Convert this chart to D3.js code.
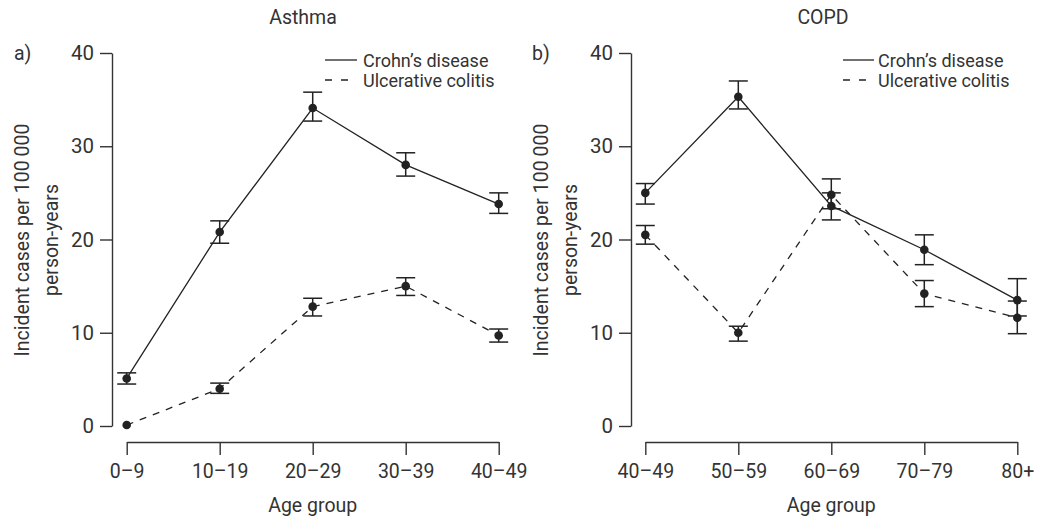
<!DOCTYPE html>
<meta charset="utf-8" />
<style>
  body { margin: 0; background: #fff; }
  svg text { font-family: Roboto, "DejaVu Sans", sans-serif; fill: #333; }
</style>
<script src="https://d3js.org/d3.v7.min.js"></script>
<svg id="chart" width="1050" height="519"></svg>
<script>
  // age groups
  const asthmaAges = ['0–9', '10–19', '20–29', '30–39', '40–49'];
  const copdAges = ['40–49', '50–59', '60–69', '70–79', '80+'];

  // asthma: Crohn's disease (CD) and ulcerative colitis (UC)
  const asthmaCD = [5.1, 20.8, 34.1, 28.0, 23.8];
  const asthmaCDLo = [4.5, 19.6, 32.7, 26.8, 22.8];
  const asthmaCDHi = [5.7, 22.0, 35.8, 29.3, 25.0];
  const asthmaUC = [0.1, 4.0, 12.8, 15.0, 9.7];
  const asthmaUCLo = [null, 3.5, 11.8, 14.0, 9.0];
  const asthmaUCHi = [null, 4.6, 13.7, 15.9, 10.4];

  // COPD
  const copdCD = [25.0, 35.3, 23.6, 18.9, 13.5];
  const copdCDLo = [23.8, 34.0, 22.1, 17.3, 11.8];
  const copdCDHi = [26.0, 37.0, 25.0, 20.5, 15.8];
  const copdUC = [20.5, 10.0, 24.8, 14.2, 11.6];
  const copdUCLo = [19.5, 9.1, 23.3, 12.8, 9.9];
  const copdUCHi = [21.5, 10.7, 26.5, 15.6, 13.4];

  const yTicks = [0, 10, 20, 30, 40];

  const svg = d3.select('#chart');
  const ink = '#222';
  const fs = '19.5px';

  const y = d3.scaleLinear().domain([0, 40]).range([426, 53]);

  function drawPanel(opt) {
    const g = svg.append('g');
    const x = d3.scalePoint().domain(opt.ages).range(opt.xRange).padding(0);

    // y axis
    const ya = g.append('g')
      .attr('transform', 'translate(' + opt.axisX + ',0)')
      .call(d3.axisLeft(y).tickValues(yTicks).tickSize(12).tickSizeOuter(0).tickPadding(6));
    ya.selectAll('path, line').attr('stroke', '#333').attr('stroke-width', 1.4);
    ya.selectAll('text').style('font-size', '20.5px').attr('fill', '#333');

    // x axis
    const xa = g.append('g')
      .attr('transform', 'translate(0,442)')
      .call(d3.axisBottom(x).tickSize(13).tickSizeOuter(0).tickPadding(9.5));
    xa.selectAll('path, line').attr('stroke', '#333').attr('stroke-width', 1.4);
    xa.selectAll('text').style('font-size', fs).attr('fill', '#333');

    // titles
    g.append('text').attr('x', opt.titleX).attr('y', 24)
      .attr('text-anchor', 'middle').style('font-size', fs).text(opt.title);
    g.append('text').attr('x', opt.labelX).attr('y', 60)
      .style('font-size', fs).text(opt.label);
    g.append('text').attr('x', (opt.xRange[0] + opt.xRange[1]) / 2).attr('y', 512)
      .attr('text-anchor', 'middle').style('font-size', fs).text('Age group');

    const yt = g.append('text').attr('transform', 'translate(' + (opt.axisX - 83) + ',240) rotate(-90)')
      .attr('text-anchor', 'middle').style('font-size', fs);
    yt.append('tspan').attr('x', 0).attr('y', 0).text('Incident cases per 100\u2009000');
    yt.append('tspan').attr('x', 0).attr('y', 29).text('person-years');

    const series = [
      { v: opt.cd, lo: opt.cdLo, hi: opt.cdHi, dash: null },
      { v: opt.uc, lo: opt.ucLo, hi: opt.ucHi, dash: '7,7' }
    ];

    const line = d3.line().x((d, i) => x(opt.ages[i])).y(d => y(d));

    series.forEach(s => {
      g.append('path').datum(s.v)
        .attr('d', line)
        .attr('fill', 'none')
        .attr('stroke', ink)
        .attr('stroke-width', 1.3)
        .attr('stroke-dasharray', s.dash);

      const eb = g.append('g');
      opt.ages.forEach((a, i) => {
        if (s.lo[i] == null) return;
        const cx = x(a);
        eb.append('line').attr('x1', cx).attr('x2', cx)
          .attr('y1', y(s.lo[i])).attr('y2', y(s.hi[i]));
        eb.append('line').attr('x1', cx - 9.5).attr('x2', cx + 9.5)
          .attr('y1', y(s.lo[i])).attr('y2', y(s.lo[i]));
        eb.append('line').attr('x1', cx - 9.5).attr('x2', cx + 9.5)
          .attr('y1', y(s.hi[i])).attr('y2', y(s.hi[i]));
      });
      eb.selectAll('line').attr('stroke', ink).attr('stroke-width', 1.5);

      g.append('g').selectAll('circle').data(s.v).join('circle')
        .attr('cx', (d, i) => x(opt.ages[i]))
        .attr('cy', d => y(d))
        .attr('r', 4.3)
        .attr('fill', ink);
    });

    // legend
    const lg = g.append('g');
    lg.append('line').attr('x1', opt.legX).attr('x2', opt.legX + opt.legLen)
      .attr('y1', 60).attr('y2', 60).attr('stroke', ink).attr('stroke-width', 1.3);
    lg.append('line').attr('x1', opt.legX).attr('x2', opt.legX + opt.legLen)
      .attr('y1', 80).attr('y2', 80).attr('stroke', ink).attr('stroke-width', 1.3)
      .attr('stroke-dasharray', '7,9');
    lg.append('text').attr('x', opt.legTextX).attr('y', 66.5).style('font-size', '18px').text('Crohn’s disease');
    lg.append('text').attr('x', opt.legTextX).attr('y', 86.5).style('font-size', '18px').text('Ulcerative colitis');
  }

  drawPanel({
    ages: asthmaAges, xRange: [126.7, 498.7], axisX: 112,
    title: 'Asthma', titleX: 303, label: 'a)', labelX: 14,
    cd: asthmaCD, cdLo: asthmaCDLo, cdHi: asthmaCDHi,
    uc: asthmaUC, ucLo: asthmaUCLo, ucHi: asthmaUCHi,
    legX: 325, legLen: 32, legTextX: 363
  });

  drawPanel({
    ages: copdAges, xRange: [645.3, 1017.3], axisX: 631,
    title: 'COPD', titleX: 823, label: 'b)', labelX: 532,
    cd: copdCD, cdLo: copdCDLo, cdHi: copdCDHi,
    uc: copdUC, ucLo: copdUCLo, ucHi: copdUCHi,
    legX: 843, legLen: 31, legTextX: 878
  });
</script>
